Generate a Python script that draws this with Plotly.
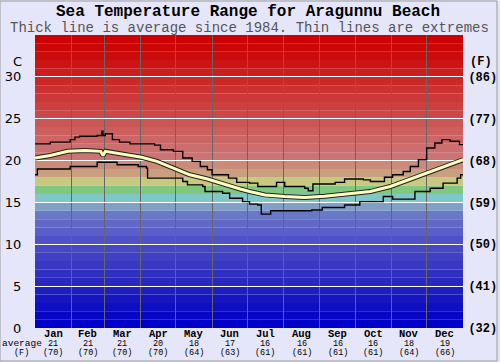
import plotly.graph_objects as go

# ---------------- data ----------------
months = ["Jan", "Feb", "Mar", "Apr", "May", "Jun", "Jul", "Aug", "Sep", "Oct", "Nov", "Dec"]
month_days = [31, 28, 31, 30, 31, 30, 31, 31, 30, 31, 30, 31]
avg_c = [21, 21, 21, 20, 18, 17, 16, 16, 16, 16, 18, 19]
avg_f = [70, 70, 70, 70, 64, 63, 61, 61, 61, 61, 64, 66]

c_ticks = [0, 5, 10, 15, 20, 25, 30]
f_ticks = ["(32)", "(41)", "(50)", "(59)", "(68)", "(77)", "(86)"]

max_day = [0, 13, 30, 34, 38, 53, 57, 58, 60, 66, 72, 81, 102, 107, 118, 126, 134, 141, 147,
           151, 165, 172, 183, 190, 206, 213, 230, 233, 237, 256, 264, 280, 286, 298, 305,
           314, 320, 327, 334, 341, 347, 354, 362, 365]
max_t = [22.0, 22.2, 22.5, 22.8, 22.9, 23.0, 23.5, 23.0, 23.2, 22.5, 22.2, 22.0, 21.85, 21.3,
         21.1, 20.3, 19.9, 19.3, 18.9, 18.3, 17.9, 17.4, 17.3, 16.9, 17.4, 16.9, 16.7, 16.4,
         17.2, 17.4, 17.8, 17.7, 17.5, 18.0, 18.3, 18.7, 19.3, 20.1, 21.5, 22.1, 22.5, 22.3,
         21.9, 21.9]

min_day = [0, 2, 30, 53, 70, 88, 95, 96, 126, 130, 143, 145, 160, 166, 177, 183, 190, 193,
           201, 236, 245, 264, 277, 297, 305, 324, 337, 348, 360, 363, 365]
min_t = [18.3, 19.0, 19.3, 19.8, 19.5, 19.3, 19.1, 17.9, 17.5, 17.1, 16.9, 16.3, 16.1, 15.5,
         15.1, 14.8, 14.7, 13.6, 14.0, 14.1, 14.4, 14.7, 15.1, 15.7, 15.4, 16.3, 16.7, 17.3,
         17.9, 18.3, 18.3]

avg_day = [0, 13, 28, 43, 56, 58, 60, 74, 91, 104, 118, 132, 147, 160, 175, 183, 196, 213,
           230, 247, 273, 286, 303, 320, 337, 354, 365]
avg_t = [20.3, 20.6, 21.1, 21.2, 21.1, 20.6, 21.1, 20.8, 20.4, 19.9, 19.1, 18.3, 17.8, 17.2,
         16.6, 16.3, 15.9, 15.7, 15.6, 15.75, 16.1, 16.3, 16.9, 17.8, 18.7, 19.6, 20.1]

# colour of each 1-degree band, from 0 C upward
band_colors = [
    "#0000c8", "#0606c4", "#0e0ec4", "#1616c0", "#1e1ec0",
    "#2828c0", "#3030c0", "#3838c0", "#4040c4", "#4848c4",
    "#5050c8", "#5a5ec8", "#6268c8", "#6a78c8", "#80a0c8",
    "#80c8c8", "#80c880", "#c8c880", "#c8a080", "#cc8a78",
    "#cc7474", "#cc6e6e", "#cc6666", "#cc5e5e", "#cc5656",
    "#cc4848", "#cc4040", "#cc3838", "#cc3030", "#cc2828",
    "#cc1c1c", "#cc1414", "#cc0c0c", "#cc0606", "#cc0000",
]

# ---------------- figure ----------------
BG = "#e6e6fa"
fig = go.Figure()

shapes = []
for i, col in enumerate(band_colors):
    shapes.append(dict(type="rect", xref="x", yref="y", x0=0, x1=365, y0=i, y1=i + 1,
                       fillcolor=col, line=dict(width=0), layer="below"))

# outer border (right/bottom frame of the image)
shapes.append(dict(type="rect", xref="paper", yref="paper",
                   x0=-35 / 428, x1=(500 - 35 - 3) / 428, y0=-33 / 293, y1=(362 - 34 - 1) / 293,
                   line=dict(color="#9a9a9a", width=1), fillcolor="rgba(0,0,0,0)"))

# month boundaries
bounds = []
acc = 0
centers = []
for d in month_days:
    centers.append(acc + d / 2)
    acc += d
    bounds.append(acc)
bounds = bounds[:-1]

fig.add_trace(go.Scatter(x=min_day, y=min_t, mode="lines", line=dict(color="black", width=1.4, shape="hv"),
                         hoverinfo="skip", showlegend=False))
fig.add_trace(go.Scatter(x=max_day, y=max_t, mode="lines", line=dict(color="black", width=1.4, shape="hv"),
                         hoverinfo="skip", showlegend=False))
fig.add_trace(go.Scatter(x=avg_day, y=avg_t, mode="lines", line=dict(color="#222222", width=5),
                         hoverinfo="skip", showlegend=False))
fig.add_trace(go.Scatter(x=avg_day, y=avg_t, mode="lines", line=dict(color="#ffffc0", width=3),
                         hoverinfo="skip", showlegend=False))
# dummy trace for right axis
fig.add_trace(go.Scatter(x=[0], y=[0], yaxis="y2", mode="markers", marker=dict(opacity=0),
                         hoverinfo="skip", showlegend=False))

annotations = []
mono = "Liberation Mono"
for m, c, f, cx in zip(months, avg_c, avg_f, centers):
    annotations.append(dict(x=cx, y=0, xref="x", yref="paper", text="<b>%s</b>" % m, showarrow=False,
                            yanchor="middle", yshift=-6, borderpad=0,
                            font=dict(family=mono, size=10.5, color="black")))
    annotations.append(dict(x=cx, y=0, xref="x", yref="paper", text="%d" % c, showarrow=False,
                            yanchor="middle", yshift=-15.5, borderpad=0,
                            font=dict(family=mono, size=8.5, color="black")))
    annotations.append(dict(x=cx, y=0, xref="x", yref="paper", text="(%d)" % f, showarrow=False,
                            yanchor="middle", yshift=-24.5, borderpad=0,
                            font=dict(family=mono, size=8.5, color="black")))

annotations.append(dict(x=0, y=0, xref="paper", yref="paper", text="average", showarrow=False,
                        xanchor="center", xshift=-13, yanchor="middle", yshift=-15.5, borderpad=0,
                        font=dict(family=mono, size=9.5, color="black")))
annotations.append(dict(x=0, y=0, xref="paper", yref="paper", text="(F)", showarrow=False,
                        xanchor="center", xshift=-14, yanchor="middle", yshift=-24.5, borderpad=0,
                        font=dict(family=mono, size=8.5, color="black")))
annotations.append(dict(x=0, y=1, xref="paper", yref="paper", text="C", showarrow=False,
                        xanchor="center", xshift=-18, yanchor="middle", yshift=-26,
                        font=dict(family="DejaVu Sans", size=13, color="black")))
annotations.append(dict(x=1, y=1, xref="paper", yref="paper", text="<b>(F)</b>", showarrow=False,
                        xanchor="center", xshift=18, yanchor="middle", yshift=-27,
                        font=dict(family=mono, size=12, color="black")))
annotations.append(dict(x=0.5, y=1, xref="paper", yref="paper",
                        text="<b>Sea Temperature Range for Aragunnu Beach</b>", showarrow=False,
                        yanchor="middle", yshift=23, xshift=-1,
                        font=dict(family=mono, size=16, color="black")))
annotations.append(dict(x=0.5, y=1, xref="paper", yref="paper",
                        text="Thick line is average since 1984. Thin lines are extremes", showarrow=False,
                        yanchor="middle", yshift=7, xshift=0,
                        font=dict(family=mono, size=14, color="#555555")))

fig.update_layout(
    width=500, height=362,
    margin=dict(l=35, r=37, t=35, b=34, autoexpand=False),
    paper_bgcolor=BG, plot_bgcolor=BG,
    showlegend=False,
    shapes=shapes,
    annotations=annotations,
    xaxis=dict(range=[0, 365], showticklabels=False, showgrid=False, zeroline=False,
               tickvals=[],
               minor=dict(tickvals=bounds, showgrid=True, gridcolor="#666666", gridwidth=1, ticks=""),
               fixedrange=True),
    yaxis=dict(range=[0, 35], tickvals=c_ticks, showgrid=True, gridcolor="white", gridwidth=1.2,
               zeroline=False, ticks="outside", ticklen=10, tickcolor="rgba(0,0,0,0)",
               tickfont=dict(family="DejaVu Sans", size=13, color="black"), fixedrange=True),
    yaxis2=dict(range=[0, 35], overlaying="y", side="right", tickvals=c_ticks, ticktext=f_ticks,
                showgrid=False, zeroline=False, ticks="outside", ticklen=2, tickcolor="rgba(0,0,0,0)",
                tickfont=dict(family=mono, size=12, color="black", weight="bold"), fixedrange=True),
)

fig.write_html("out.html", config={"displayModeBar": False},
               post_script="document.body.style.margin='0';document.body.style.overflow='hidden';")
